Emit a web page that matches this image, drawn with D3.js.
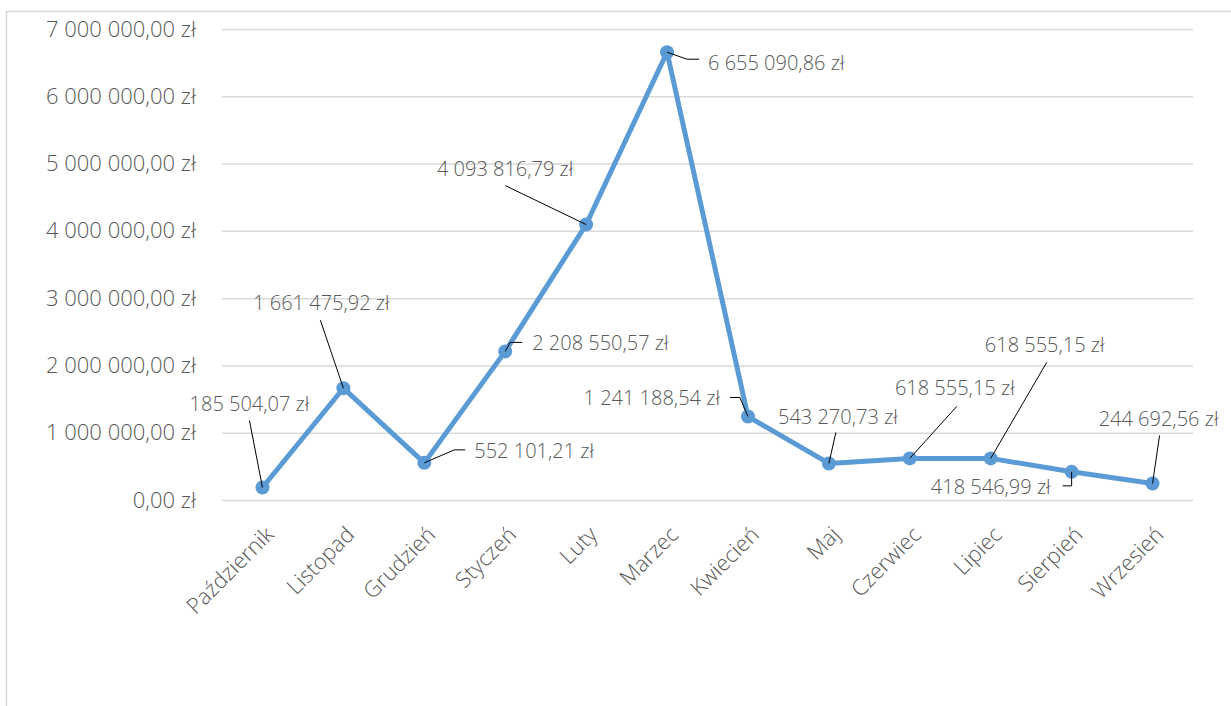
<!DOCTYPE html>
<html>
<head>
<meta charset="utf-8">
<script src="https://cdn.jsdelivr.net/npm/d3@7"></script>
<style>
  body { margin: 0; background: #fff; }
  text { font-family: "Open Sans", sans-serif; font-weight: 300; fill: #595959; }
</style>
</head>
<body>
<div id="wrapper"></div>
<script>
const months = ["Październik", "Listopad", "Grudzień", "Styczeń", "Luty", "Marzec",
    "Kwiecień", "Maj", "Czerwiec", "Lipiec", "Sierpień", "Wrzesień"];
const amounts = [185504.07, 1661475.92, 552101.21, 2208550.57, 4093816.79, 6655090.86,
    1241188.54, 543270.73, 618555.15, 618555.15, 418546.99, 244692.56];
const yTicks = [0, 1000000, 2000000, 3000000, 4000000, 5000000, 6000000, 7000000];

// label placement relative to the point: text offset + leader line
const labelLayout = [
    { dx: -13, dy: -84, anchor: "middle", leader: [[0, 0], [-13, -67]] },
    { dx: -22, dy: -85, anchor: "middle", leader: [[0, 0], [-23, -68]] },
    { dx: 50, dy: -12, anchor: "start", leader: [[0, 0], [30, -13], [41, -13]] },
    { dx: 27, dy: -8, anchor: "start", leader: [[0, 0], [5, -9], [17, -9]] },
    { dx: -81, dy: -56, anchor: "middle", leader: [[0, 0], [-81, -39]] },
    { dx: 41, dy: 11, anchor: "start", leader: [[0, 0], [20, 7], [32, 7]] },
    { dx: -28, dy: -18, anchor: "end", leader: [[0, 0], [-8, -19], [-18, -19]] },
    { dx: 9, dy: -46, anchor: "middle", leader: [[0, 0], [7, -31]] },
    { dx: 45, dy: -70, anchor: "middle", leader: [[0, 0], [47, -52]] },
    { dx: 54, dy: -113, anchor: "middle", leader: [[0, 0], [56, -96]] },
    { dx: -21, dy: 15, anchor: "end", leader: [[0, 0], [0, 14], [-9, 14]] },
    { dx: 6, dy: -65, anchor: "middle", leader: [[0, 0], [7, -48]] }
];

const plnFormat = v => {
    const parts = v.toFixed(2).split(".");
    const intPart = parts[0].replace(/\B(?=(\d{3})+(?!\d))/g, " ");
    return intPart + "," + parts[1] + " zł";
};

const dimension = {
    width: 1231,
    height: 706,
    margin: { top: 29, left: 222, bottom: 206, right: 38 }
};
dimension.boundedWidth = dimension.width - dimension.margin.left - dimension.margin.right;
dimension.boundedHeight = dimension.height - dimension.margin.top - dimension.margin.bottom;

const svg = d3.select("#wrapper").append("svg")
    .attr("width", dimension.width)
    .attr("height", dimension.height);

// outer chart frame
svg.append("path")
    .attr("d", "M6.5,706 L6.5,11.5 L1231,11.5")
    .attr("fill", "none")
    .attr("stroke", "#d9d9d9")
    .attr("stroke-width", 1.5);

const bounded = svg.append("g")
    .attr("transform", `translate(${dimension.margin.left}, ${dimension.margin.top})`);

const xScaler = d3.scalePoint()
    .domain(months)
    .range([0, dimension.boundedWidth])
    .padding(0.5);

const yScaler = d3.scaleLinear()
    .domain([0, 7000000])
    .range([dimension.boundedHeight, 0]);

// grid + y labels
const yAxis = d3.axisLeft(yScaler)
    .tickValues(yTicks)
    .tickSize(-dimension.boundedWidth)
    .tickPadding(26)
    .tickFormat(plnFormat);

const yAxisG = bounded.append("g").call(yAxis);
yAxisG.select(".domain").remove();
yAxisG.selectAll(".tick line").attr("stroke", "#d9d9d9").attr("stroke-width", 1.5);
yAxisG.selectAll(".tick text")
    .style("font-size", "22px")
    .attr("fill", "#595959");

// x labels
const xAxis = d3.axisBottom(xScaler).tickSize(0).tickPadding(0);
const xAxisG = bounded.append("g")
    .attr("transform", `translate(0, ${dimension.boundedHeight})`)
    .call(xAxis);
xAxisG.select(".domain").remove();
xAxisG.selectAll(".tick text")
    .style("font-size", "22px")
    .attr("fill", "#595959")
    .attr("text-anchor", "end")
    .attr("dy", null)
    .attr("y", 0)
    .attr("transform", "translate(12, 36) rotate(-45)");

const lineGenerator = d3.line()
    .x((d, i) => xScaler(months[i]))
    .y(d => yScaler(d));

bounded.append("path")
    .attr("d", lineGenerator(amounts))
    .attr("fill", "none")
    .attr("stroke", "#5b9bd5")
    .attr("stroke-width", 5)
    .attr("stroke-linejoin", "round");

bounded.selectAll(".marker")
    .data(amounts)
    .join("circle")
    .attr("class", "marker")
    .attr("cx", (d, i) => xScaler(months[i]))
    .attr("cy", d => yScaler(d))
    .attr("r", 7)
    .attr("fill", "#5b9bd5");

// leader lines + data labels
const labels = bounded.selectAll(".label")
    .data(amounts)
    .join("g")
    .attr("class", "label")
    .attr("transform", (d, i) => `translate(${xScaler(months[i])}, ${yScaler(d)})`);

labels.append("path")
    .attr("d", (d, i) => d3.line()(labelLayout[i].leader))
    .attr("fill", "none")
    .attr("stroke", "#000")
    .attr("stroke-width", 1);

labels.append("text")
    .attr("x", (d, i) => labelLayout[i].dx)
    .attr("y", (d, i) => labelLayout[i].dy)
    .attr("dy", "0.35em")
    .attr("text-anchor", (d, i) => labelLayout[i].anchor)
    .style("font-size", "20px")
    .text(d => plnFormat(d));
</script>
</body>
</html>
